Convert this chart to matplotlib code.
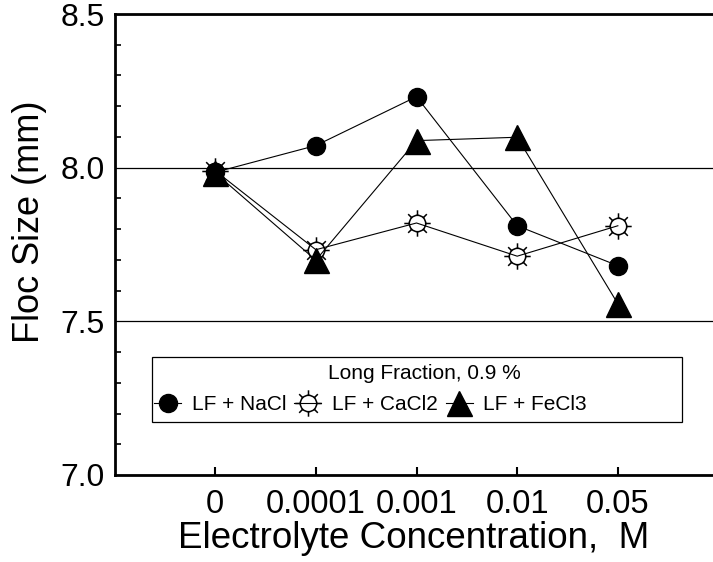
"""Floc size vs electrolyte concentration (long fraction, 0.9 %)."""

import matplotlib
matplotlib.use("Agg")
import matplotlib.pyplot as plt
import numpy as np
from matplotlib.path import Path
from matplotlib.patches import Rectangle
from matplotlib.ticker import MultipleLocator

concentrations = ["0", "0.0001", "0.001", "0.01", "0.05"]
nacl = [7.985, 8.072, 8.231, 7.811, 7.681]
cacl2 = [7.990, 7.733, 7.820, 7.712, 7.811]
fecl3 = [7.983, 7.699, 8.088, 8.099, 7.557]
series_labels = ["LF + NaCl", "LF + CaCl2", "LF + FeCl3"]
legend_title = "Long Fraction, 0.9 %"

plt.rcParams.update({
    "font.family": ["Liberation Sans", "DejaVu Sans"],
    "text.color": "black", "axes.labelcolor": "black",
    "xtick.color": "black", "ytick.color": "black",
})


def sun_marker():
    # open circle with eight short rays, as in the original symbol
    circ = Path.circle((0, 0), 0.62)
    verts, codes = [], []
    for a in np.arange(8) * np.pi / 4:
        verts += [(0.64 * np.cos(a), 0.64 * np.sin(a)), (np.cos(a), np.sin(a))]
        codes += [Path.MOVETO, Path.LINETO]
    return Path.make_compound_path(circ, Path(verts, codes))


W, H = 713, 562
fig = plt.figure(figsize=(W / 100, H / 100), dpi=100)
left, right, top, bottom = 114.5, 713, 14, 475
ax = fig.add_axes([left / W, (H - bottom) / H, (right - left) / W, (bottom - top) / H])

x = np.arange(len(concentrations))
line_kw = dict(color="black", lw=0.8)
ax.plot(x, nacl, marker="o", ms=13, mfc="black", mec="black", label=series_labels[0],
        zorder=3, **line_kw)
ax.plot(x, cacl2, marker=sun_marker(), ms=19, mfc="none", mec="black", mew=1.1,
        label=series_labels[1], zorder=4, **line_kw)
ax.plot(x, fecl3, marker="^", ms=18, mfc="black", mec="black", label=series_labels[2],
        zorder=5, **line_kw)

ax.set_xlim(-1, 4.945)
ax.set_ylim(7.0, 8.5)
ax.set_xticks(x)
ax.set_xticklabels(concentrations)
ax.set_yticks([7.0, 7.5, 8.0, 8.5])
ax.set_yticklabels(["7.0", "7.5", "8.0", "8.5"])
ax.yaxis.set_minor_locator(MultipleLocator(0.1))
ax.yaxis.grid(True, which="major", color="black", lw=0.9)
ax.set_axisbelow(True)

ax.tick_params(axis="x", direction="in", length=6, width=1.5, labelsize=23.5, pad=10)
ax.tick_params(axis="y", which="major", direction="in", length=0, labelsize=23, pad=7)
ax.tick_params(axis="y", which="minor", direction="in", length=4, width=1.2)

for s in ("left", "bottom", "top"):
    ax.spines[s].set_linewidth(2.0)
ax.spines["right"].set_visible(False)

ax.set_xlabel("Electrolyte Concentration,  M", fontsize=26.5, labelpad=1)
ax.set_ylabel("Floc Size (mm)", fontsize=26)
ax.yaxis.set_label_coords(-0.113, 0.549)

# legend box, title and entries
ax.add_patch(Rectangle((0.0627, 0.115), 0.8856, 0.141, transform=ax.transAxes,
                       fill=True, facecolor="white", edgecolor="black", lw=0.9, zorder=6))
ax.text(0.518, 0.221, legend_title, transform=ax.transAxes, ha="center", va="center",
        fontsize=15, zorder=7)
leg = ax.legend(loc="center left", bbox_to_anchor=(0.066, 0.152), ncol=3, frameon=False,
                fontsize=15, handlelength=1.3, handletextpad=0.5, columnspacing=0.4,
                borderpad=0, borderaxespad=0)
leg.set_zorder(8)

fig.savefig("out.png", dpi=100)
